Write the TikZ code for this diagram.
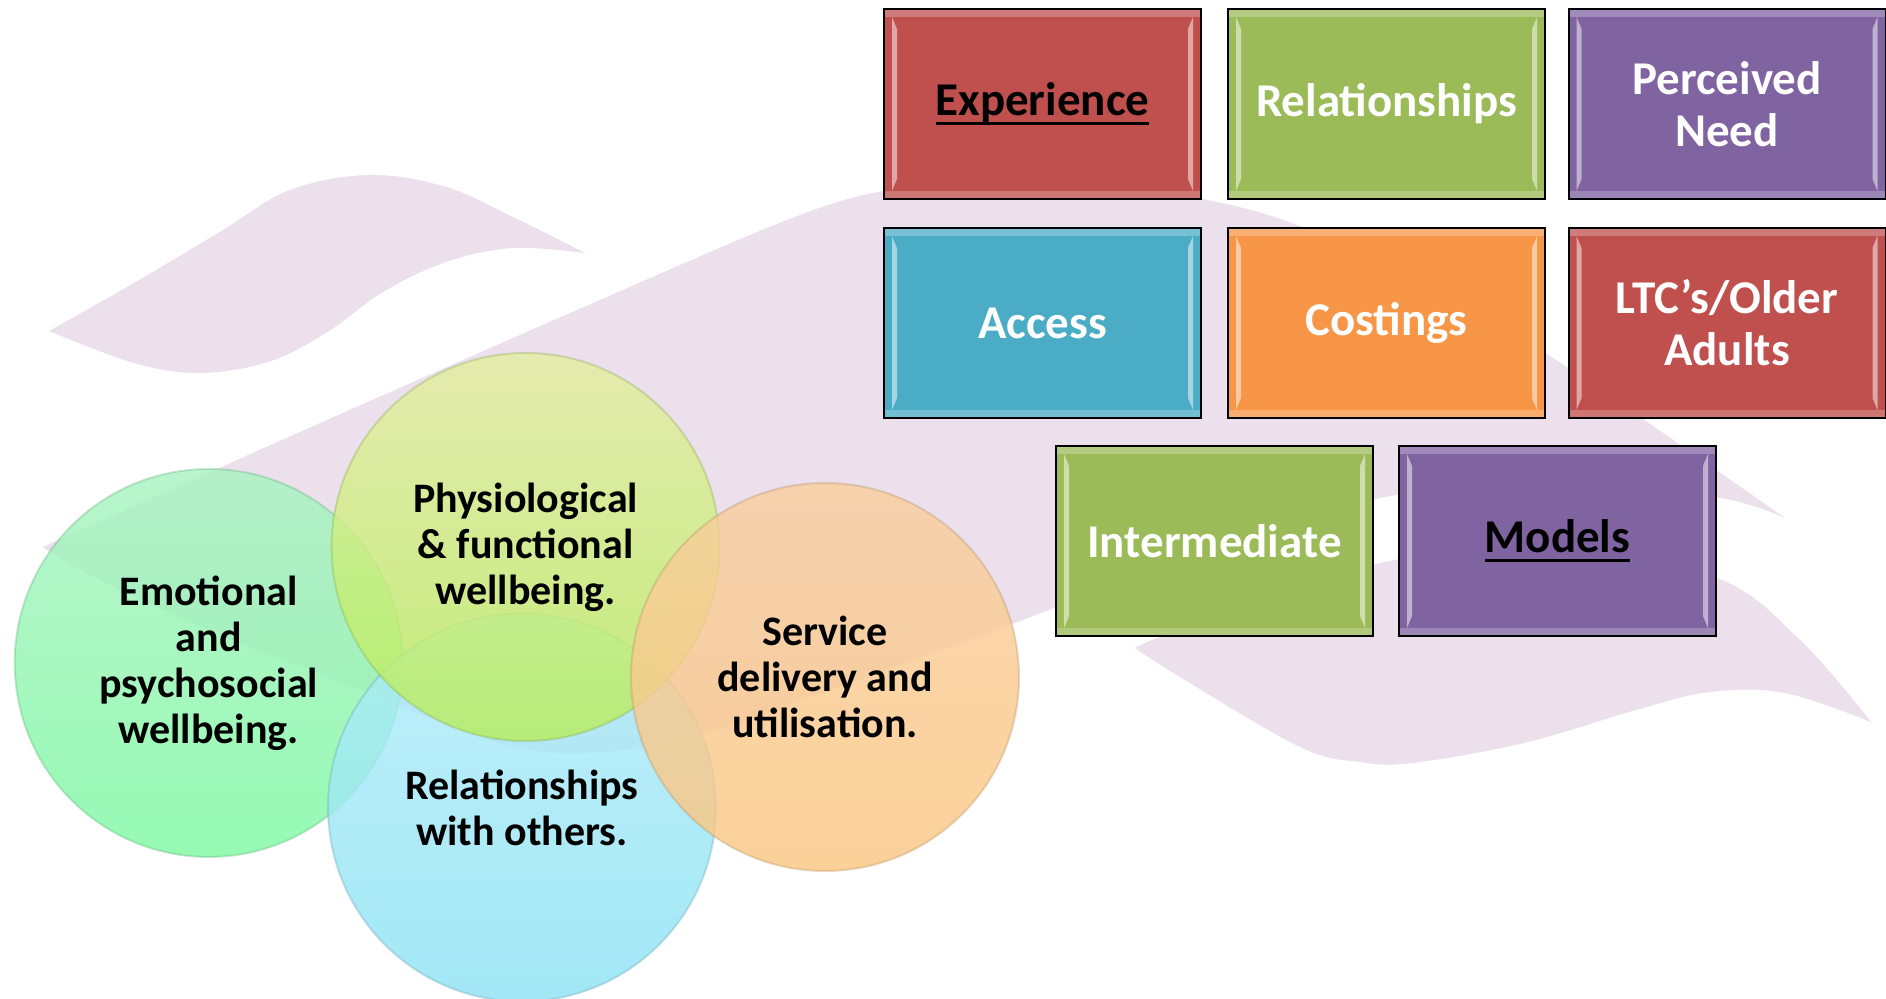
\documentclass[tikz,border=0pt]{standalone}
\usepackage{fontspec}
\setmainfont{Carlito}
\usetikzlibrary{calc}
\definecolor{bgp}{RGB}{235,224,236}
\definecolor{tred}{RGB}{192,80,77}
\definecolor{tgreen}{RGB}{155,187,89}
\definecolor{tpurple}{RGB}{128,100,162}
\definecolor{tblue}{RGB}{75,172,198}
\definecolor{torange}{RGB}{247,150,70}
\definecolor{cgreenT}{RGB}{168,243,193}
\definecolor{cgreenB}{RGB}{124,249,161}
\definecolor{cyellowT}{RGB}{228,238,160}
\definecolor{cyellowB}{RGB}{184,238,90}
\definecolor{cblueT}{RGB}{176,237,249}
\definecolor{cblueB}{RGB}{140,226,244}
\definecolor{corangeT}{RGB}{249,206,158}
\definecolor{corangeB}{RGB}{251,198,128}
\newcommand\tilefont{\bfseries\fontsize{23.5pt}{26pt}\selectfont}
\newcommand\bubfont{\bfseries\fontsize{21pt}{23pt}\selectfont}
\newsavebox\ulwordbox
\newcommand\ulword[1]{\sbox\ulwordbox{#1}\rlap{\vrule height -3pt depth 4.5pt width \wd\ulwordbox}\usebox\ulwordbox}
\tikzset{
  tile/.style={draw=black, line width=1pt, fill=#1, minimum width=158.5pt,
    minimum height=95pt, inner sep=0pt, align=center, text=white, font=\tilefont,
    path picture={
      \path (path picture bounding box.north west) coordinate (pnw)
            (path picture bounding box.south east) coordinate (pse)
            (path picture bounding box.north east) coordinate (pne)
            (path picture bounding box.south west) coordinate (psw);
      \fill[white,opacity=0.25] (pnw) rectangle ([yshift=-4pt]pne);
      \fill[white,opacity=0.22] ([yshift=4pt]psw) rectangle (pse);
      \fill[white,opacity=0.5] ([shift={(4pt,-4pt)}]pnw) -- ([shift={(6.5pt,-10pt)}]pnw)
          -- ([shift={(6.5pt,10pt)}]psw) -- ([shift={(4pt,4pt)}]psw) -- cycle;
      \fill[white,opacity=0.5] ([shift={(-4pt,-4pt)}]pne) -- ([shift={(-6.5pt,-10pt)}]pne)
          -- ([shift={(-6.5pt,10pt)}]pse) -- ([shift={(-4pt,4pt)}]pse) -- cycle;
    }},
  bub/.style n args={2}{circle, minimum size=194pt, inner sep=0pt, top color=#1,
    bottom color=#2, fill opacity=0.8, draw=#2!70!black, draw opacity=0.3, line width=1pt},
  bubtext/.style={align=center, font=\bubfont, text=black, inner sep=0pt},
  swoosh/.style={fill=bgp}
}
\begin{document}
\begin{tikzpicture}[x=0.5pt, y=-0.5pt]
\useasboundingbox (0,0) rectangle (1886,999);
\fill[white] (0,0) rectangle (1886,999);
% background swooshes
\fill[swoosh] plot[smooth, tension=0.6] coordinates {(49,331) (134,283) (223,230) (290,190) (370,175) (446,187) (513,217) (585,253)}
  -- plot[smooth, tension=0.6] coordinates {(585,253) (513,248) (446,262) (383,292) (326,333) (268,362) (199,373) (134,363) (49,331)} -- cycle;
\fill[swoosh] plot[smooth, tension=0.6] coordinates {(43,547) (300,432) (600,300) (800,215) (900,188) (1000,179) (1100,184) (1198,198) (1302,227) (1450,298) (1545,353) (1640,417) (1785,518)}
  -- plot[smooth, tension=0.6] coordinates {(1785,518) (1714,497) (1550,485) (1385,497) (1200,555) (1057,607) (1004,627) (850,683) (700,735) (600,752) (520,748) (430,718) (335,680) (201,627) (87,573) (43,547)} -- cycle;
\fill[swoosh] plot[smooth, tension=0.6] coordinates {(1135,648) (1180,630) (1385,562) (1550,550) (1714,577) (1800,640) (1871,722)}
  -- plot[smooth, tension=0.6] coordinates {(1871,722) (1785,693) (1710,692) (1636,710) (1524,743) (1412,763) (1360,762) (1300,747) (1180,677) (1135,648)} -- cycle;
% circles
\node[bub={cgreenT}{cgreenB}] (emo) at (208.7,663) {};
\node[bub={cblueT}{cblueB}] (rel) at (522,807.5) {};
\node[bub={cyellowT}{cyellowB}] (phy) at (525.6,547) {};
\node[bub={corangeT}{corangeB}] (ser) at (825,677) {};
\node[bubtext] (emoT) at (emo.center) {Emotional\\and\\psychosocial\\wellbeing.};
\node[bubtext] (phyT) at (phy.center) {Physiological\\\& functional\\wellbeing.};
\node[bubtext] (relT) at (rel.center) {Relationships\\with others.};
\node[bubtext] (serT) at (ser.center) {Service\\delivery and\\utilisation.};
% tiles
\node[tile=tred, text=black] (exp) at (1042.5,104) {\ulword{Experience}};
\node[tile=tgreen] (rels) at (1386.5,104) {Relationships};
\node[tile=tpurple] (need) at (1727,104) {Perceived\\Need};
\node[tile=tblue] (acc) at (1042.5,323) {Access};
\node[tile=torange] (cost) at (1386.5,323) {Costings};
\node[tile=tred] (ltc) at (1727,323) {LTC’s/Older\\Adults};
\node[tile=tgreen] (inter) at (1214.5,541) {Intermediate};
\node[tile=tpurple, text=black] (mod) at (1557.5,541) {\ulword{Models}};
\end{tikzpicture}
\end{document}
